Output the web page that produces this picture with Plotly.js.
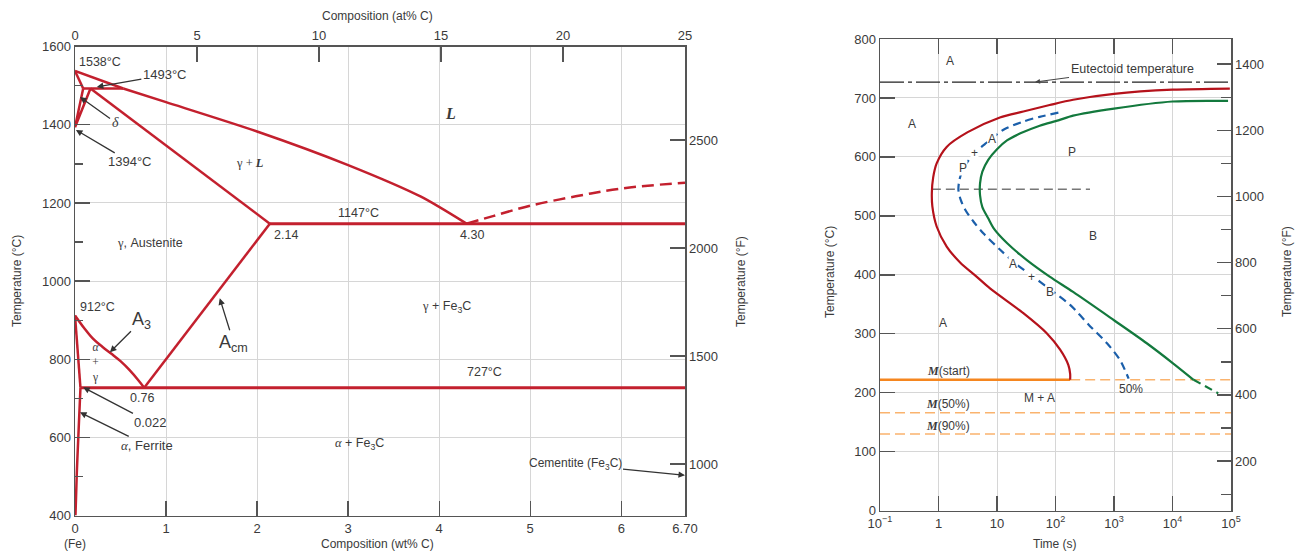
<!DOCTYPE html>
<html>
<head>
<meta charset="utf-8">
<script src="https://cdn.plot.ly/plotly-3.0.1.min.js"></script>
<style>html,body{margin:0;padding:0;background:#fff;}#chart{width:1299px;height:552px;}</style>
</head>
<body>
<div id="chart"></div>
<script>
// ---------------- Fe–Fe3C phase diagram data (wt% C, °C) ----------------
const liquidusTopW = [0, 0.53];
const liquidusTopC = [1538, 1493];
const liquidusW = [0.53, 1.0, 2.0, 3.0, 3.8, 4.30];
const liquidusC = [1493, 1458, 1383, 1297, 1216, 1147];
const deltaSolidusW = [0, 0.09];
const deltaSolidusC = [1538, 1493];
const peritecticW = [0.09, 0.53];
const peritecticC = [1493, 1493];
const deltaGammaW = [0.09, 0, 0.17];
const deltaGammaC = [1493, 1394, 1493];
const gammaSolidusW = [0.17, 2.14];
const gammaSolidusC = [1493, 1147];
const eutecticW = [2.14, 6.70];
const eutecticC = [1147, 1147];
const acmW = [2.14, 0.76];
const acmC = [1147, 727];
const a3W = [0, 0.1, 0.2, 0.3, 0.4, 0.5, 0.6, 0.7, 0.76];
const a3C = [912, 880, 852, 832, 814, 795, 772, 745, 727];
const alphaGammaW = [0, 0.06];
const alphaGammaC = [912, 727];
const eutectoidW = [0.06, 6.70];
const eutectoidC = [727, 727];
const solvusW = [0.06, 0.04, 0.02, 0.005];
const solvusC = [727, 620, 510, 400];
const hyperLiquidusW = [4.30, 4.6, 5.0, 5.5, 6.0, 6.7];
const hyperLiquidusC = [1147, 1167, 1193, 1217, 1237, 1252];

const wtTicks = [0, 1, 2, 3, 4, 5, 6, 6.70];
const wtTickText = ['0', '1', '2', '3', '4', '5', '6', '6.70'];
const atTicks = [0, 5, 10, 15, 20, 25];
const degFTicksLeft = [1000, 1500, 2000, 2500];

// ---------------- TTT diagram data (time s, °C) ----------------
const startTime = [95500, 10000, 1000, 200, 79.4, 28.2, 11.2, 3.16, 1.38, 0.93, 0.81, 0.77, 0.785, 0.93, 1.38, 2.34, 4.47, 7.59, 28.2, 70.8, 120, 166, 178, 178];
const startTemp = [716, 714, 707, 697, 688, 677, 667, 642, 617, 589, 565, 540, 516, 482, 448, 421, 397, 377, 335, 301, 273, 247, 232, 222];
const finishTime = [89100, 10000, 1000, 200, 112, 53.7, 25.1, 14.8, 10, 7.08, 5.62, 5.13, 5.13, 5.62, 7.08, 8.91, 14.8, 32.4, 79.4, 200, 1000, 3630, 10200, 22900];
const finishTemp = [695, 694, 682, 670, 662, 653, 640, 628, 613, 595, 575, 555, 535, 515, 496, 478, 454, 425, 397, 371, 323, 284, 250, 222];
const finishDashTime = [22900, 60600];
const finishDashTemp = [222, 199];
const halfTime = [112, 53.7, 28.2, 12.9, 6.61, 4.17, 2.75, 2.29, 2.19, 2.40, 2.88, 3.98, 5.89, 11.2, 19.1, 38.9, 79.4, 178, 389, 759, 1259, 1778];
const halfTemp = [675, 668, 660, 646, 624, 607, 583, 562, 544, 527, 510, 490, 470, 443, 422, 399, 376, 349, 313, 284, 256, 224];
const eutectoidTime = [0.1, 100000];
const eutectoidTemp = [727, 727];
const noseLineTime = [0.77, 389];
const noseLineTemp = [545, 545];
const msSolidTime = [0.1, 178];
const msDashTime = [178, 100000];
const msTemp = 222;
const m50Temp = 166;
const m90Temp = 130;
const timeTicks = [0.1, 1, 10, 100, 1000, 10000, 100000];
const timeTickText = ['10<sup>−1</sup>', '1', '10', '10<sup>2</sup>', '10<sup>3</sup>', '10<sup>4</sup>', '10<sup>5</sup>'];

const RED = '#C3202E', TRED = '#B5121B', GREEN = '#13793D', BLUE = '#1B5FAA';
const ORANGE = '#F5861F', LORANGE = '#FAB36E';
const AX = '#555', GRID = '#d6d6d6', TXT = '#3a3a3a';
const SER = '<span style="font-family:Liberation Serif">';

function ln(x, y, color, width, dash, xa, ya, smooth) {
  const l = {color: color, width: width, dash: dash || 'solid'};
  if (smooth) { l.shape = 'spline'; l.smoothing = smooth; }
  return {type: 'scatter', mode: 'lines', x: x, y: y, xaxis: xa || 'x', yaxis: ya || 'y',
    line: l, hoverinfo: 'skip', showlegend: false};
}

const data = [
  ln(liquidusTopW, liquidusTopC, RED, 2.5),
  ln(liquidusW, liquidusC, RED, 2.5, 'solid', 'x', 'y', 0.7),
  ln(deltaSolidusW, deltaSolidusC, RED, 2.5),
  ln(peritecticW, peritecticC, RED, 2.5),
  ln(deltaGammaW, deltaGammaC, RED, 2.5),
  ln(gammaSolidusW, gammaSolidusC, RED, 2.5),
  ln(eutecticW, eutecticC, RED, 3),
  ln(acmW, acmC, RED, 2.5),
  ln(a3W, a3C, RED, 2.5, 'solid', 'x', 'y', 1),
  ln(alphaGammaW, alphaGammaC, RED, 2.5),
  ln(eutectoidW, eutectoidC, RED, 3),
  ln(solvusW, solvusC, RED, 2.5, 'solid', 'x', 'y', 1),
  ln(hyperLiquidusW, hyperLiquidusC, RED, 2.5, '12px,6px', 'x', 'y', 1),
  {type: 'scatter', x: [], y: [], xaxis: 'x2', yaxis: 'y', showlegend: false},
  {type: 'scatter', x: [], y: [], xaxis: 'x', yaxis: 'y2', showlegend: false},
  // TTT
  ln(eutectoidTime, eutectoidTemp, '#222', 1.2, '24px,4px,4px,4px', 'x3', 'y3'),
  ln(noseLineTime, noseLineTemp, '#777', 1.5, '9px,5px', 'x3', 'y3'),
  ln(msDashTime, [msTemp, msTemp], LORANGE, 1.5, '10px,5px', 'x3', 'y3'),
  ln([0.1, 100000], [m50Temp, m50Temp], LORANGE, 1.5, '10px,5px', 'x3', 'y3'),
  ln([0.1, 100000], [m90Temp, m90Temp], LORANGE, 1.5, '10px,5px', 'x3', 'y3'),
  ln(msSolidTime, [msTemp, msTemp], ORANGE, 2.5, 'solid', 'x3', 'y3'),
  ln(startTime, startTemp, TRED, 2.2, 'solid', 'x3', 'y3', 0.8),
  ln(finishTime, finishTemp, GREEN, 2.2, 'solid', 'x3', 'y3', 0.8),
  ln(finishDashTime, finishDashTemp, GREEN, 2.2, '8px,5px', 'x3', 'y3'),
  ln(halfTime, halfTemp, BLUE, 2.2, '8px,5px', 'x3', 'y3', 0.8),
  {type: 'scatter', x: [], y: [], xaxis: 'x3', yaxis: 'y4', showlegend: false}
];

// label tables
const phaseLabelText = ['1538°C', SER + '<i><b>L</b></i></span>', SER + 'γ + <i><b>L</b></i></span>', '1147°C', '2.14', '4.30',
  SER + 'γ</span>, Austenite', SER + 'γ</span> + Fe<sub>3</sub>C', '912°C', '727°C', '0.76',
  SER + '<i>α</i></span> + Fe<sub>3</sub>C'];
const phaseLabelW = [0.02, 4.12, 1.92, 3.11, 2.32, 4.36, 0.82, 4.08, 0.25, 4.50, 0.735, 3.13];
const phaseLabelC = [1561, 1428, 1302, 1174, 1118, 1118, 1097, 933, 933, 767, 702, 582];
const phaseLabelAnchor = ['left', 'center', 'center', 'center', 'center', 'center', 'center', 'center', 'center', 'center', 'center', 'center'];

const arrowText = ['1493°C', SER + '<i>δ</i></span>', '1394°C', '0.022',
  SER + '<i>α</i></span>, Ferrite', 'A<sub>3</sub>', 'A<sub>cm</sub>', 'Cementite (Fe<sub>3</sub>C)'];
const arrowTipW = [0.24, 0.055, 0.01, 0.09, 0.055, 0.384, 1.59, 6.70];
const arrowTipC = [1497, 1471, 1387, 728, 664, 818, 956, 503];
const arrowAx = [68, 35, 54, 67, 67, 32, 14, -110];
const arrowAy = [-12, 25, 32, 35, 33, -32, 45, -11];
const arrowSize = [13, 14, 13, 13, 13, 18, 18, 12];

const MI = '<i><b style="font-family:Liberation Serif">M</b></i>';
const tttLabelText = ['A', 'A', 'P', 'B', 'A', 'A', '+', 'P', 'A', '+', 'B', MI + '(start)', MI + '(50%)', MI + '(90%)', 'M + A', '50%'];
const tttLabelTime = [1.57, 0.356, 194, 443, 1.21, 8.1, 4.2, 2.62, 19, 39.6, 80.5, 1.47, 1.47, 1.47, 54, 1928];
const tttLabelTemp = [763, 656, 608, 466, 318, 630, 607, 581, 418, 396, 371, 237, 180.5, 144, 191, 206];
const tttOnCurve = [false, false, false, false, false, true, true, true, true, true, true, false, false, false, false, false];

const annotations = [];
function paper(px, py) { return {x: px / 1299, y: 1 - py / 552}; }
function ptxt(text, px, py, opts) {
  const p = paper(px, py);
  annotations.push(Object.assign({xref: 'paper', yref: 'paper', x: p.x, y: p.y, text: text, showarrow: false,
    font: {size: 12, color: TXT}, xanchor: 'center', yanchor: 'middle'}, opts || {}));
}
phaseLabelText.forEach((t, i) => {
  annotations.push({xref: 'x', yref: 'y', x: phaseLabelW[i], y: phaseLabelC[i], text: t, showarrow: false,
    xanchor: phaseLabelAnchor[i], yanchor: 'middle', font: {size: i === 1 ? 16 : 12.5, color: TXT}});
});
annotations.push({xref: 'x', yref: 'y', x: 0.23, y: 792, text: SER + '<i>α</i><br>+<br>γ</span>',
  showarrow: false, font: {size: 11.5, color: TXT}, xanchor: 'center', yanchor: 'middle'});
arrowText.forEach((t, i) => {
  annotations.push({xref: 'x', yref: 'y', x: arrowTipW[i], y: arrowTipC[i], text: t, showarrow: true,
    ax: arrowAx[i], ay: arrowAy[i], arrowhead: 2, arrowsize: 1, arrowwidth: 1.3, arrowcolor: '#333', standoff: 0,
    font: {size: arrowSize[i], color: TXT}});
});
tttLabelText.forEach((t, i) => {
  annotations.push({xref: 'x3', yref: 'y3', x: Math.log10(tttLabelTime[i]), y: tttLabelTemp[i], text: t, showarrow: false,
    xanchor: 'center', yanchor: 'middle', font: {size: 12, color: TXT},
    bgcolor: tttOnCurve[i] ? 'rgba(255,255,255,1)' : 'rgba(0,0,0,0)', borderpad: 0});
});
annotations.push({xref: 'x3', yref: 'y3', x: Math.log10(44.7), y: 727, text: 'Eutectoid temperature', showarrow: true,
  ax: 97, ay: -13, arrowhead: 2, arrowsize: 1, arrowwidth: 1, arrowcolor: '#444', standoff: 0, font: {size: 12.5, color: TXT}});

// axis titles
ptxt('Composition (at% C)', 377, 16);
ptxt('Composition (wt% C)', 377, 544);
ptxt('(Fe)', 75, 544);
ptxt('Temperature (°C)', 17, 281, {textangle: -90});
ptxt('Temperature (°F)', 741, 281, {textangle: -90});
ptxt('Temperature (°C)', 830, 272, {textangle: -90});
ptxt('Time (s)', 1055, 544);
ptxt('Temperature (°F)', 1287, 272, {textangle: -90});

const common = {showline: true, linecolor: AX, linewidth: 1.5, ticks: 'inside', tickcolor: AX, tickwidth: 1.3,
  ticklen: 15, gridcolor: GRID, gridwidth: 1, zeroline: false, tickfont: {size: 13, color: TXT}, fixedrange: true};

const layout = {
  width: 1299, height: 552,
  margin: {l: 0, r: 0, t: 0, b: 0},
  paper_bgcolor: '#fff', plot_bgcolor: 'rgba(0,0,0,0)',
  font: {family: 'Liberation Sans, Arial, sans-serif', color: TXT, size: 12},
  showlegend: false,
  xaxis: Object.assign({}, common, {domain: [75 / 1299, 685 / 1299], anchor: 'y', range: [0, 6.70],
    tickmode: 'array', tickvals: wtTicks, ticktext: wtTickText, showgrid: true, mirror: true}),
  xaxis2: Object.assign({}, common, {overlaying: 'x', side: 'top', anchor: 'y', range: [0, 25],
    tickmode: 'array', tickvals: atTicks, showgrid: false}),
  yaxis: Object.assign({}, common, {domain: [1 - 515.5 / 552, 1 - 46.7 / 552], anchor: 'x', range: [400, 1600],
    dtick: 200, tick0: 400, showgrid: true, mirror: true,
    minor: {dtick: 100, tick0: 400, ticks: 'inside', ticklen: 8, tickcolor: AX, tickwidth: 1.3, showgrid: false}}),
  yaxis2: Object.assign({}, common, {overlaying: 'y', side: 'right', anchor: 'x', range: [762, 2932],
    tickmode: 'array', tickvals: degFTicksLeft, showgrid: false}),
  xaxis3: Object.assign({}, common, {domain: [880 / 1299, 1231 / 1299], anchor: 'y3', type: 'log', range: [-1, 5],
    tickmode: 'array', tickvals: timeTicks, ticktext: timeTickText, showgrid: true, mirror: 'ticks'}),
  yaxis3: Object.assign({}, common, {domain: [1 - 510.7 / 552, 1 - 39 / 552], anchor: 'x3', range: [0, 800],
    dtick: 100, showgrid: true, mirror: true}),
  yaxis4: Object.assign({}, common, {overlaying: 'y3', side: 'right', anchor: 'x3', range: [50, 1476],
    dtick: 200, tick0: 0, ticklen: 14, showgrid: false,
    minor: {dtick: 100, tick0: 0, ticks: 'inside', ticklen: 10, tickcolor: AX, tickwidth: 1.3, showgrid: false}}),
  annotations: annotations
};

Plotly.newPlot('chart', data, layout, {staticPlot: true, displayModeBar: false});
</script>
</body>
</html>
